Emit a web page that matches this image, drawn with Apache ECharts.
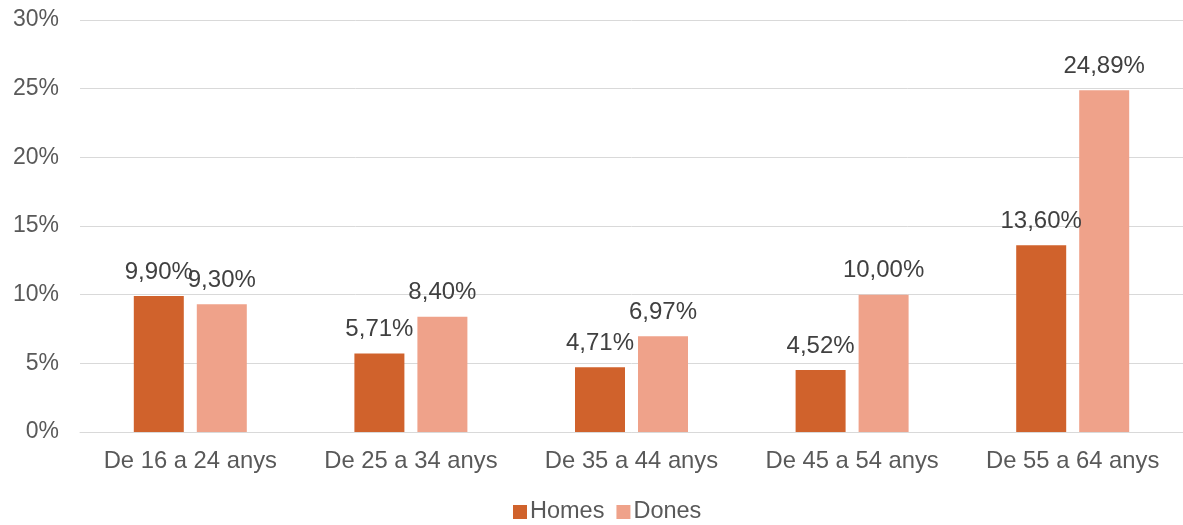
<!DOCTYPE html>
<html><head><meta charset="utf-8">
<script src="https://cdn.jsdelivr.net/npm/echarts@6/dist/echarts.min.js"></script>
<style>html,body{margin:0;padding:0;background:#fff}#c{width:1183px;height:525px}</style>
</head><body><div id="c"></div>
<script>
const categories = ['De 16 a 24 anys','De 25 a 34 anys','De 35 a 44 anys','De 45 a 54 anys','De 55 a 64 anys'];
const homes = [9.90, 5.71, 4.71, 4.52, 13.60];
const dones = [9.30, 8.40, 6.97, 10.00, 24.89];
const seriesNames = ['Homes','Dones'];
const fmt = v => v.toFixed(2).replace('.', ',') + '%';
const font = 'Liberation Sans, Arial, sans-serif';
const chart = echarts.init(document.getElementById('c'));
chart.setOption({
  animation:false,
  textStyle:{fontFamily:font},
  grid:{left:80,right:0,top:20,bottom:93,containLabel:false},
  legend:{bottom:-4,left:508,itemWidth:14,itemHeight:14,itemGap:12,icon:'rect',
    textStyle:{fontSize:23.5,color:'#595959',fontFamily:font,padding:[0,0,0,-2]},data:seriesNames},
  xAxis:{type:'category',data:categories,
    axisLine:{lineStyle:{color:'#D9D9D9',width:1}},axisTick:{show:false},
    axisLabel:{interval:0,fontSize:23.8,color:'#595959',margin:17,fontFamily:font}},
  yAxis:{type:'value',min:0,max:30,interval:5,
    axisLine:{show:false},axisTick:{show:false},
    splitLine:{lineStyle:{color:'#D9D9D9',width:1}},
    axisLabel:{formatter:'{value}%',fontSize:23,color:'#595959',margin:21,fontFamily:font}},
  series:[
    {name:seriesNames[0],type:'bar',data:homes,barWidth:50,barGap:'26%',
     itemStyle:{color:'#D0622C'},
     label:{show:true,position:'top',distance:12,formatter:p=>fmt(p.value),fontSize:24,color:'#404040',fontFamily:font}},
    {name:seriesNames[1],type:'bar',data:dones,barWidth:50,
     itemStyle:{color:'#EFA28A'},
     label:{show:true,position:'top',distance:12,formatter:p=>fmt(p.value),fontSize:24,color:'#404040',fontFamily:font}}
  ]
});
</script></body></html>
